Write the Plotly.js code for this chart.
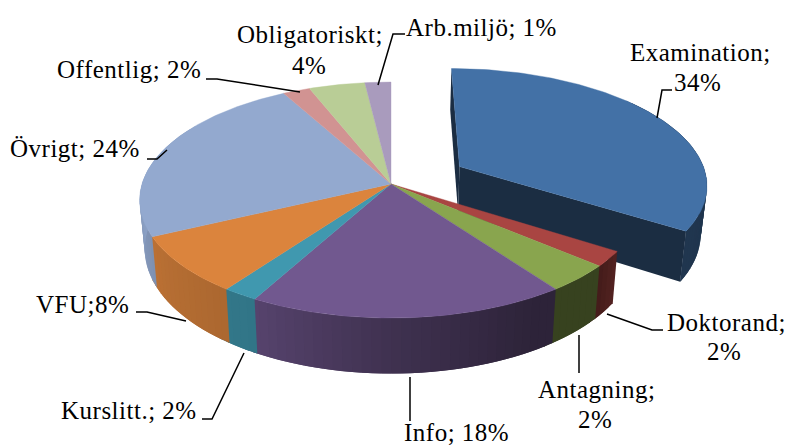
<!DOCTYPE html>
<html><head><meta charset="utf-8">
<script src="https://cdn.plot.ly/plotly-3.0.1.min.js"></script>
<style>html,body{margin:0;padding:0;background:#fff}.annotation-text{letter-spacing:0.5px}</style>
</head><body><div id="c" style="width:790px;height:447px"></div>
<script>
// Data: wedge shares, clockwise from 12 o'clock
const categories = ["Examination","Doktorand","Antagning","Info","Kurslitt.","VFU","Övrigt","Offentlig","Obligatoriskt","Arb.miljö"];
const shares = [34,2.1,3.8,18,2,7.9,24,2,4.1,1.9];
const explode = [0.32,0,0,0,0,0,0,0,0,0];
const colors = ["#4371A6","#A94542","#89A54E","#71588F","#4098AF","#DB843D","#93A9CF","#D19392","#B9CD96","#A99BBD"];
// Label lines exactly as printed, with centre x and baseline y of each line
const labelLines = ["Examination;","34%","Doktorand;","2%","Antagning;","2%","Info; 18%","Kurslitt.; 2%","VFU;8%","Övrigt; 24%","Offentlig; 2%","Obligatoriskt;","4%","Arb.miljö; 1%"];
const labelX = [700,697,726,724,597,595,456,129,82,75,129,310,309,481];
const labelY = [61,91,331,360,398,428,441,419,313,157,78,43,74,36];
const leaders = [
 [[672,90],[662,90],[657,118]],
 [[607,314],[652,330],[663,330]],
 [[579,335],[579,373]],
 [[410,377],[410,421]],
 [[202,419],[212,419],[244,353]],
 [[136,312],[147,312],[186,321]],
 [[147,159],[157,159],[167,150]],
 [[206,79],[217,79],[300,92]],
 [[405,34],[393,34],[378,85]]
];
// Projection of the tilted disc
const cx=391, cy=184, R=249, T=115.8, K=0.136, DEPTH=48, BOTTOM=0.98;
const FONT="'Liberation Serif','Times New Roman',serif", FS=25;
function proj(u,v,low){
  const s=1/(1-K*v);
  let x=R*u*s, y=T*v*s;
  if(low){x*=BOTTOM; y+=DEPTH*s;}
  return [cx+x,cy+y];
}
const rad=d=>d*Math.PI/180;
function rim(th,ox,oy,low){return proj(ox+Math.sin(rad(th)),oy-Math.cos(rad(th)),low);}
const shadeTh=[60,100,124,130,150,180,210,240,270,300];
const shadeV =[.50,.46,.48,.40,.40,.56,.77,.84,.95,.95];
function shade(th){
  for(let i=1;i<shadeTh.length;i++) if(th<=shadeTh[i]){
    const f=(th-shadeTh[i-1])/(shadeTh[i]-shadeTh[i-1]);
    return shadeV[i-1]+f*(shadeV[i]-shadeV[i-1]);
  }
  return shadeV[shadeV.length-1];
}
function tint(hex,f){
  const n=parseInt(hex.slice(1),16);
  return `rgb(${Math.round((n>>16&255)*f)},${Math.round((n>>8&255)*f)},${Math.round((n&255)*f)})`;
}
function poly(pts,col,lw){
  const c=pts.concat([pts[0]]);
  return {type:'scatter',mode:'lines',x:c.map(p=>p[0]),y:c.map(p=>p[1]),fill:'toself',fillcolor:col,
    line:{color:col,width:lw},hoverinfo:'skip',showlegend:false};
}
const total=shares.reduce((a,b)=>a+b,0);
let a0=0; const wedges=shares.map((v,i)=>{
  const a1=a0+v/total*360, mid=(a0+a1)/2, e=explode[i];
  const w={i,a0,a1,ox:e*Math.sin(rad(mid)),oy:-e*Math.cos(rad(mid)),col:colors[i]};
  a0=a1; return w;
});
function drawFaces(w,tr){
  const apexT=proj(w.ox,w.oy,false), apexB=proj(w.ox,w.oy,true);
  [w.a0,w.a1].forEach(t=>tr.push(poly([apexT,rim(t,w.ox,w.oy,false),rim(t,w.ox,w.oy,true),apexB],tint(w.col,.4),0)));
}
// Each strip runs on past its end so that the next one paints over the joint
function drawRim(w,tr,limit){
  const step=2;
  for(let t=Math.max(w.a0,50);t<w.a1&&t<300;t+=step){
    const e=Math.min(t+step,w.a1), far=Math.min(t+step*2,limit);
    const pts=[];
    for(let q=t;q<far;q+=0.5) pts.push(rim(q,w.ox,w.oy,false));
    pts.push(rim(far,w.ox,w.oy,false));
    for(let q=far;q>t;q-=0.5) pts.push(rim(q,w.ox,w.oy,true));
    pts.push(rim(t,w.ox,w.oy,true));
    tr.push(poly(pts,tint(w.col,shade((t+e)/2)),0));
  }
}
function drawTop(w,tr){
  const pts=[proj(w.ox,w.oy,false)];
  for(let t=w.a0;t<w.a1;t+=1) pts.push(rim(t,w.ox,w.oy,false));
  pts.push(rim(w.a1,w.ox,w.oy,false));
  const p=poly(pts,w.col,0.4); p.name=categories[w.i]; tr.push(p);
}
const traces=[];
const ex=wedges.filter(w=>explode[w.i]>0), main=wedges.filter(w=>explode[w.i]===0);
ex.forEach(w=>{drawFaces(w,traces);drawRim(w,traces,w.a1);drawTop(w,traces);});
main.forEach(w=>drawRim(w,traces,w.a1+4));
main.forEach(w=>drawTop(w,traces));

const BASE=0.92*FS; // annotation top to baseline
const annotations=labelLines.map((t,i)=>({xref:'x',yref:'y',x:labelX[i],y:labelY[i]-BASE,text:t,showarrow:false,
  xanchor:'center',yanchor:'top',align:'center',borderpad:0,font:{family:FONT,size:FS,color:'#000'}}));
const shapes=leaders.map(l=>({type:'path',xref:'x',yref:'y',path:'M'+l.map(p=>p.join(' ')).join('L'),line:{color:'#000',width:1.5}}));
Plotly.newPlot('c',traces,{
  width:790,height:447,margin:{l:0,r:0,t:0,b:0},paper_bgcolor:'#fff',plot_bgcolor:'#fff',showlegend:false,
  xaxis:{range:[0,790],visible:false,fixedrange:true},
  yaxis:{range:[447,0],visible:false,fixedrange:true},
  annotations,shapes
},{staticPlot:true,displayModeBar:false});
</script></body></html>
